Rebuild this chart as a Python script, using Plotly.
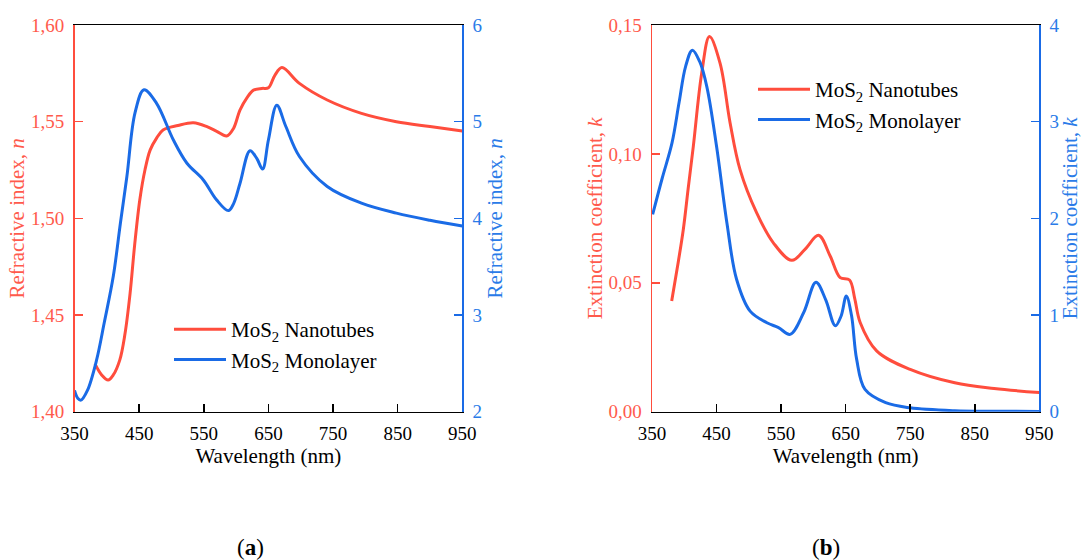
import plotly.graph_objects as go

# ---------- data ----------
# Panel (a): refractive index n
wl_n_nt = [381.7, 392, 402, 410, 420, 428, 436, 443, 451, 459, 467, 477, 487, 510, 534, 555, 570, 585.5, 596, 606, 617, 627, 640, 650, 660, 671, 698, 741, 794, 848, 900, 950]
n_nt = [1.4247, 1.419, 1.4164, 1.419, 1.4267, 1.440, 1.4612, 1.486, 1.5095, 1.525, 1.5353, 1.5415, 1.5457, 1.548, 1.5494, 1.5474, 1.545, 1.5426, 1.5465, 1.556, 1.5625, 1.5663, 1.5672, 1.5675, 1.574, 1.578, 1.5698, 1.5612, 1.5543, 1.550, 1.5475, 1.5452]

wl_n_ml = [350, 355, 360, 370, 384, 396, 410, 421, 431, 443.6, 457.5, 477, 503, 524, 549, 570, 588, 596, 606, 621.5, 632, 641, 650, 663, 677, 698, 741, 794, 848, 900, 950]
n_ml = [2.22, 2.14, 2.12, 2.22, 2.53, 2.92, 3.40, 3.95, 4.43, 5.09, 5.33, 5.19, 4.81, 4.57, 4.40, 4.19, 4.08, 4.15, 4.36, 4.70, 4.62, 4.51, 4.81, 5.17, 4.95, 4.64, 4.33, 4.157, 4.054, 3.98, 3.92]

# Panel (b): extinction coefficient k
wl_k_nt = [380.5, 389, 398.5, 406, 414, 427, 439, 455.4, 471, 486.4, 512, 538, 566.6, 587, 608, 626, 641.5, 656, 664, 672.5, 698, 750, 819, 880, 950]
k_nt = [0.0429, 0.0555, 0.0707, 0.0865, 0.1029, 0.1313, 0.1455, 0.1352, 0.112, 0.0939, 0.0772, 0.0655, 0.0587, 0.063, 0.0684, 0.0604, 0.052, 0.0511, 0.0440, 0.0346, 0.0236, 0.0164, 0.0112, 0.0090, 0.0074]

wl_k_ml = [351, 366, 381, 392, 402, 412.5, 424, 435, 450, 466, 481, 502, 528, 546, 564, 585, 604, 619, 634, 643, 651, 659, 667, 680, 712, 750, 819, 880, 950]
k_ml = [2.04, 2.42, 2.78, 3.20, 3.57, 3.74, 3.62, 3.36, 2.745, 1.955, 1.37, 1.04, 0.92, 0.87, 0.80, 1.026, 1.34, 1.16, 0.888, 0.99, 1.197, 1.0, 0.544, 0.23, 0.093, 0.04, 0.01, 0.005, 0.003]

x_ticks = [350, 450, 550, 650, 750, 850, 950]
name_nt = "MoS<sub>2</sub> Nanotubes"
name_ml = "MoS<sub>2</sub> Monolayer"

# ---------- style ----------
RED = "#FF4D3D"
RED_TXT = "#FF5A4C"
BLUE = "#1A6BE6"
BLUE_TXT = "#2A7BE8"
FONT = "Liberation Serif"
TICK_SIZE = 19
TEXT_SIZE = 21

fig = go.Figure()
fig.add_trace(go.Scatter(x=wl_n_nt, y=n_nt, name=name_nt, mode="lines", line=dict(color=RED, width=3, shape="spline"),
                         xaxis="x", yaxis="y", legend="legend"))
fig.add_trace(go.Scatter(x=wl_n_ml, y=n_ml, name=name_ml, mode="lines", line=dict(color=BLUE, width=3, shape="spline"),
                         xaxis="x", yaxis="y2", legend="legend"))
fig.add_trace(go.Scatter(x=wl_k_nt, y=k_nt, name=name_nt, mode="lines", line=dict(color=RED, width=3, shape="spline"),
                         xaxis="x2", yaxis="y3", legend="legend2"))
fig.add_trace(go.Scatter(x=wl_k_ml, y=k_ml, name=name_ml, mode="lines", line=dict(color=BLUE, width=3, shape="spline"),
                         xaxis="x2", yaxis="y4", legend="legend2"))

# body margin is removed by the post script, so page pixels == figure pixels
W, H = 1082, 560
px = lambda p: p / W
py = lambda p: 1 - p / H

ydom = [py(411.7), py(25)]
xdom_a = [px(74.5), px(462.3)]
xdom_b = [px(652), px(1039.3)]

def xax(domain, anchor):
    return dict(domain=domain, anchor=anchor, range=[350, 950], tickvals=x_ticks,
                ticks="inside", ticklen=8, tickwidth=1.5, tickcolor="black",
                showline=True, linecolor="black", linewidth=1.5, mirror=True,
                showgrid=False, zeroline=False, ticklabelstandoff=4,
                tickfont=dict(family=FONT, size=TICK_SIZE, color="black"),
                title=dict(text="Wavelength (nm)", font=dict(family=FONT, size=TEXT_SIZE, color="black"), standoff=5))

def yax(anchor, rng, tickvals, fmt, color, txtcolor, title, side="left", overlaying=None, standoff=0):
    d = dict(anchor=anchor, range=rng, tickvals=tickvals, tickformat=fmt, side=side,
             ticks="inside", ticklen=8, tickwidth=1.5, tickcolor=color,
             showline=True, linecolor=color, linewidth=1.5,
             showgrid=False, zeroline=False, ticklabelstandoff=5,
             tickfont=dict(family=FONT, size=TICK_SIZE, color=txtcolor),
             title=dict(text=title, font=dict(family=FONT, size=TEXT_SIZE, color=txtcolor), standoff=standoff))
    if overlaying:
        d["overlaying"] = overlaying
    else:
        d["domain"] = ydom
    return d

fig.update_layout(
    width=W, height=H,
    margin=dict(l=0, r=0, t=0, b=0, autoexpand=False),
    paper_bgcolor="white", plot_bgcolor="white",
    separators=",.",
    font=dict(family=FONT),
    hovermode=False,
    xaxis=xax(xdom_a, "y"),
    yaxis=yax("x", [1.40, 1.60], [1.40, 1.45, 1.50, 1.55, 1.60], ".2f", RED, RED_TXT, "Refractive index, <i>n</i>"),
    yaxis2=yax("x", [2, 6], [2, 3, 4, 5, 6], "d", BLUE, BLUE_TXT, "Refractive index, <i>n</i>", side="right", overlaying="y", standoff=4),
    xaxis2=xax(xdom_b, "y3"),
    yaxis3=yax("x2", [0, 0.15], [0, 0.05, 0.10, 0.15], ".2f", RED, RED_TXT, "Extinction coefficient, <i>k</i>"),
    yaxis4=yax("x2", [0, 4], [0, 1, 2, 3, 4], "d", BLUE, BLUE_TXT, "Extinction coefficient, <i>k</i>", side="right", overlaying="y3", standoff=2),
    legend=dict(x=px(169), y=py(309), xanchor="left", yanchor="top", bgcolor="rgba(0,0,0,0)",
                font=dict(family=FONT, size=TEXT_SIZE, color="black"), itemwidth=52, tracegroupgap=0),
    legend2=dict(x=px(753), y=py(69), xanchor="left", yanchor="top", bgcolor="rgba(0,0,0,0)",
                 font=dict(family=FONT, size=TEXT_SIZE, color="black"), itemwidth=52, tracegroupgap=0),
    showlegend=True,
    annotations=[
        dict(text="(<b>a</b>)", x=px(250), y=py(547), xref="paper", yref="paper", showarrow=False,
             xanchor="center", yanchor="middle", font=dict(family=FONT, size=23, color="black")),
        dict(text="(<b>b</b>)", x=px(826), y=py(547), xref="paper", yref="paper", showarrow=False,
             xanchor="center", yanchor="middle", font=dict(family=FONT, size=23, color="black")),
    ],
)

fig.write_html("out.html",
               config={"displayModeBar": False, "staticPlot": True},
               post_script="document.body.style.margin='0';document.body.style.overflow='hidden';")
